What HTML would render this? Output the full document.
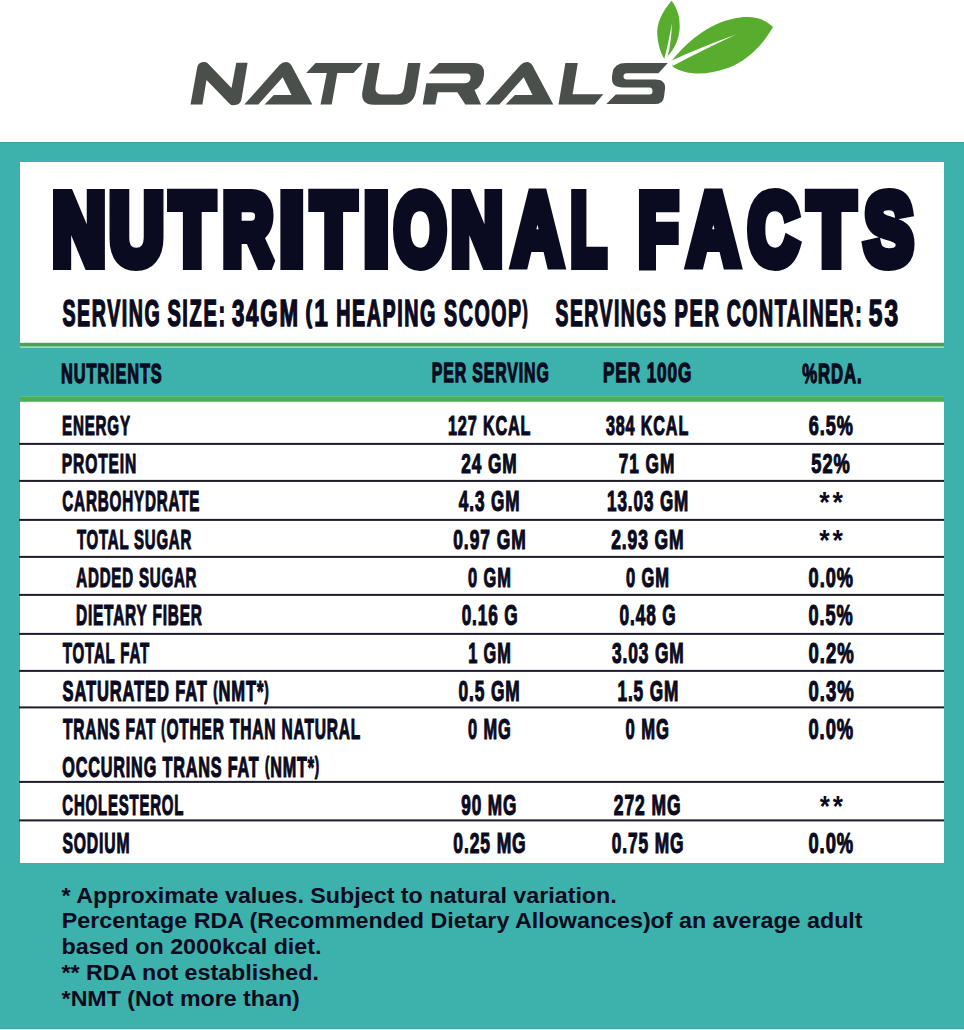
<!DOCTYPE html>
<html><head><meta charset="utf-8"><style>
html,body{margin:0;padding:0;background:#fff;width:964px;height:1030px;overflow:hidden}
svg{display:block}
text{font-family:"Liberation Sans",sans-serif;font-weight:700}
</style></head><body>
<svg width="964" height="1030" viewBox="0 0 964 1030">
<rect x="0" y="0" width="964" height="1030" fill="#ffffff"/>
<g fill="#4b4f4c">
<path d="M190.5,104.6 L197.3,66.9 Q198.5,62 204.5,62 Q207,62 208.6,64.2 L231.5,88.1 L236.3,62.8 L247.6,62.8 L241.5,99.1 Q240.5,105.3 233.3,105.3 Q231,105.3 229.8,103.9 L206.5,79.9 L202.4,104.6 Z"/>
<path id="A1" d="M244.3,104.6 L279.5,65 Q282.5,62 286,62 Q289.5,62 291.5,65.5 L312.3,104.6 L264.6,104.6 L273.9,94.9 L291.5,94.9 L282.7,77.3 L258.3,104.6 Z"/>
<path transform="translate(241,0)" d="M244.3,104.6 L279.5,65 Q282.5,62 286,62 Q289.5,62 291.5,65.5 L312.3,104.6 L264.6,104.6 L273.9,94.9 L291.5,94.9 L282.7,77.3 L258.3,104.6 Z"/>
<path d="M306.2,73 L315.6,63.1 L362.9,63.1 L353.5,73 L337.3,73 L331.7,104.5 L320.5,104.5 L326.8,73 Z"/>
<path d="M367.8,63.1 L379.7,63.1 L375.6,86 Q374.2,94.5 382,94.5 L397,94.5 Q403,94.5 404,88 L408,63.1 L420.5,63.1 L416,91 Q413.5,104.8 401,104.8 L374,104.8 Q360,104.8 362.5,91 Z"/>
<path d="M438.9,63.1 L473.2,63.1 Q485,63.1 484,75 Q483,86 474.5,90 L481.1,104.5 L465.3,104.5 L457.4,92.3 L437.7,92.3 L435.4,104.5 L422.7,104.5 L426.3,83.2 L465.3,83.2 Q470,83 470.5,78 Q471,73.4 466,73.4 L428.6,73.4 Z"/>
<path d="M565.4,63.1 L577.8,63.1 L572.6,94.2 L603.3,94.2 L594.6,104.5 L558.5,104.5 Z"/>
<path d="M626,63.1 L667.8,63.1 L658.4,73.3 L627,73.3 Q623.5,73.3 623.5,76.5 Q623.5,79.5 627,79.5 L655,79.5 Q666,79.5 665,89 L664,97 Q663,104.1 655,104.1 L606.3,104.1 L615.8,94.6 L649.5,94.6 Q652.5,94.6 652.5,91 Q652.5,87.5 649.5,87.5 L623,87.5 Q611,87.5 612,77 L612.5,73 Q614,63.1 626,63.1 Z"/>
</g>
<g fill="#58ac2e">
<path d="M671.6,0.7 C662,12 656,24 657.4,36 C658.5,47 661,54 664.8,59.5 C672,52 679,42 679.7,28 C680,16 677,8 671.6,0.7 Z"/>
<path d="M671.5,61 C690,38 713,21 740,17.5 C756,15.5 766,20 773,27 C762,46 748,60 728,68 C708,75 688,76 673,67 Z"/>
</g>
<g fill="#ffffff">
<path d="M671.8,23 C671.8,36 670,48 666.8,59.8 L664,59.8 C667,48 670,36 671.8,23 Z"/>
<path d="M736,34.5 C712,43 690,52 669.5,61.5 L673.5,65.5 C693,55 714,45 736,34.5 Z"/>
</g>
<rect x="0" y="142" width="964" height="888" fill="#3db1ac"/>
<rect x="20" y="162" width="924" height="701" fill="#ffffff"/>
<rect x="20" y="342.8" width="924" height="3.9" fill="#4c9f57"/>
<rect x="20" y="347" width="924" height="49.19999999999999" fill="#3db1ac"/>
<rect x="20" y="396.2" width="924" height="5.6" fill="#4daf55"/>
<rect x="20" y="346.7" width="924" height="1" fill="#a6f2cf"/>
<rect x="0" y="142" width="964" height="1" fill="#3aa29d"/>
<rect x="0" y="1028" width="964" height="1" fill="#45a4a1"/>
<rect x="0" y="1029" width="964" height="1" fill="#b6faf6"/>
<rect x="19" y="442.90" width="925" height="2.0" fill="#1c1c2e"/>
<rect x="19" y="479.90" width="925" height="2.0" fill="#1c1c2e"/>
<rect x="19" y="518.90" width="925" height="2.0" fill="#1c1c2e"/>
<rect x="19" y="555.90" width="925" height="2.0" fill="#1c1c2e"/>
<rect x="19" y="593.90" width="925" height="2.0" fill="#1c1c2e"/>
<rect x="19" y="632.90" width="925" height="2.0" fill="#1c1c2e"/>
<rect x="19" y="669.90" width="925" height="2.0" fill="#1c1c2e"/>
<rect x="19" y="706.40" width="925" height="2.0" fill="#1c1c2e"/>
<rect x="19" y="780.90" width="925" height="2.0" fill="#1c1c2e"/>
<rect x="19" y="819.40" width="925" height="2.0" fill="#1c1c2e"/>
<g fill="#0a0a20">
<text x="52.39" y="264.00" font-size="100.29" textLength="52.99" lengthAdjust="spacingAndGlyphs" stroke="#0a0a20" stroke-width="12" stroke-linejoin="miter" stroke-miterlimit="1.8">N</text>
<text x="109.39" y="264.00" font-size="100.29" textLength="54.09" lengthAdjust="spacingAndGlyphs" stroke="#0a0a20" stroke-width="12" stroke-linejoin="miter" stroke-miterlimit="1.8">U</text>
<text x="170.50" y="264.00" font-size="100.29" textLength="43.64" lengthAdjust="spacingAndGlyphs" stroke="#0a0a20" stroke-width="12" stroke-linejoin="miter" stroke-miterlimit="1.8">T</text>
<text x="222.69" y="264.00" font-size="100.29" textLength="50.45" lengthAdjust="spacingAndGlyphs" stroke="#0a0a20" stroke-width="12" stroke-linejoin="miter" stroke-miterlimit="1.8">R</text>
<text x="279.70" y="264.00" font-size="100.29" textLength="24.03" lengthAdjust="spacingAndGlyphs" stroke="#0a0a20" stroke-width="12" stroke-linejoin="miter" stroke-miterlimit="1.8">I</text>
<text x="311.85" y="264.00" font-size="100.29" textLength="43.81" lengthAdjust="spacingAndGlyphs" stroke="#0a0a20" stroke-width="12" stroke-linejoin="miter" stroke-miterlimit="1.8">T</text>
<text x="364.09" y="264.00" font-size="100.29" textLength="24.65" lengthAdjust="spacingAndGlyphs" stroke="#0a0a20" stroke-width="12" stroke-linejoin="miter" stroke-miterlimit="1.8">I</text>
<text x="394.24" y="264.00" font-size="100.29" textLength="51.79" lengthAdjust="spacingAndGlyphs" stroke="#0a0a20" stroke-width="12" stroke-linejoin="miter" stroke-miterlimit="1.8">O</text>
<text x="451.20" y="264.00" font-size="100.29" textLength="51.39" lengthAdjust="spacingAndGlyphs" stroke="#0a0a20" stroke-width="12" stroke-linejoin="miter" stroke-miterlimit="1.8">N</text>
<text x="512.85" y="264.00" font-size="100.29" textLength="49.50" lengthAdjust="spacingAndGlyphs" stroke="#0a0a20" stroke-width="12" stroke-linejoin="miter" stroke-miterlimit="1.8">A</text>
<text x="570.84" y="264.00" font-size="100.29" textLength="35.36" lengthAdjust="spacingAndGlyphs" stroke="#0a0a20" stroke-width="12" stroke-linejoin="miter" stroke-miterlimit="1.8">L</text>
<text x="638.62" y="264.00" font-size="100.29" textLength="39.49" lengthAdjust="spacingAndGlyphs" stroke="#0a0a20" stroke-width="12" stroke-linejoin="miter" stroke-miterlimit="1.8">F</text>
<text x="688.10" y="264.00" font-size="100.29" textLength="50.68" lengthAdjust="spacingAndGlyphs" stroke="#0a0a20" stroke-width="12" stroke-linejoin="miter" stroke-miterlimit="1.8">A</text>
<text x="748.28" y="264.00" font-size="100.29" textLength="50.21" lengthAdjust="spacingAndGlyphs" stroke="#0a0a20" stroke-width="12" stroke-linejoin="miter" stroke-miterlimit="1.8">C</text>
<text x="808.55" y="264.00" font-size="100.29" textLength="46.09" lengthAdjust="spacingAndGlyphs" stroke="#0a0a20" stroke-width="12" stroke-linejoin="miter" stroke-miterlimit="1.8">T</text>
<text x="864.47" y="264.00" font-size="100.29" textLength="48.52" lengthAdjust="spacingAndGlyphs" stroke="#0a0a20" stroke-width="12" stroke-linejoin="miter" stroke-miterlimit="1.8">S</text>
<text x="62.40" y="325.90" font-size="37.50" textLength="99.07" lengthAdjust="spacingAndGlyphs" stroke="#0a0a20" stroke-width="1.6" stroke-linejoin="miter" stroke-miterlimit="1.8" letter-spacing="3">SERVING</text>
<text x="167.38" y="325.90" font-size="37.50" textLength="59.34" lengthAdjust="spacingAndGlyphs" stroke="#0a0a20" stroke-width="1.6" stroke-linejoin="miter" stroke-miterlimit="1.8" letter-spacing="3">SIZE:</text>
<text x="231.89" y="325.90" font-size="37.50" textLength="67.88" lengthAdjust="spacingAndGlyphs" stroke="#0a0a20" stroke-width="1.6" stroke-linejoin="miter" stroke-miterlimit="1.8" letter-spacing="3">34GM</text>
<text x="305.61" y="325.90" font-size="37.50" textLength="24.03" lengthAdjust="spacingAndGlyphs" stroke="#0a0a20" stroke-width="1.6" stroke-linejoin="miter" stroke-miterlimit="1.8" letter-spacing="3"><tspan font-size="30.38" dy="-3.75">(</tspan><tspan dy="3.75">1</tspan></text>
<text x="336.28" y="325.90" font-size="37.50" textLength="100.71" lengthAdjust="spacingAndGlyphs" stroke="#0a0a20" stroke-width="1.6" stroke-linejoin="miter" stroke-miterlimit="1.8" letter-spacing="3">HEAPING</text>
<text x="444.10" y="325.90" font-size="37.50" textLength="85.31" lengthAdjust="spacingAndGlyphs" stroke="#0a0a20" stroke-width="1.6" stroke-linejoin="miter" stroke-miterlimit="1.8" letter-spacing="3">SCOOP<tspan font-size="30.38" dy="-3.75">)</tspan></text>
<text x="555.49" y="325.90" font-size="37.50" textLength="111.87" lengthAdjust="spacingAndGlyphs" stroke="#0a0a20" stroke-width="1.6" stroke-linejoin="miter" stroke-miterlimit="1.8" letter-spacing="3">SERVINGS</text>
<text x="674.52" y="325.90" font-size="37.50" textLength="45.99" lengthAdjust="spacingAndGlyphs" stroke="#0a0a20" stroke-width="1.6" stroke-linejoin="miter" stroke-miterlimit="1.8" letter-spacing="3">PER</text>
<text x="726.69" y="325.90" font-size="37.50" textLength="136.64" lengthAdjust="spacingAndGlyphs" stroke="#0a0a20" stroke-width="1.6" stroke-linejoin="miter" stroke-miterlimit="1.8" letter-spacing="3">CONTAINER:</text>
<text x="868.85" y="325.90" font-size="37.50" textLength="31.16" lengthAdjust="spacingAndGlyphs" stroke="#0a0a20" stroke-width="1.6" stroke-linejoin="miter" stroke-miterlimit="1.8" letter-spacing="3">53</text>
<text x="60.96" y="382.65" font-size="27.62" textLength="101.68" lengthAdjust="spacingAndGlyphs" stroke="#0a0a20" stroke-width="1.3" stroke-linejoin="miter" stroke-miterlimit="1.8" letter-spacing="1.5">NUTRIENTS</text>
<text x="431.71" y="382.35" font-size="28.05" textLength="117.94" lengthAdjust="spacingAndGlyphs" stroke="#0a0a20" stroke-width="1.3" stroke-linejoin="miter" stroke-miterlimit="1.8" letter-spacing="1.5">PER SERVING</text>
<text x="602.91" y="382.35" font-size="28.05" textLength="89.41" lengthAdjust="spacingAndGlyphs" stroke="#0a0a20" stroke-width="1.3" stroke-linejoin="miter" stroke-miterlimit="1.8" letter-spacing="1.5">PER 100G</text>
<text x="802.13" y="382.55" font-size="27.47" textLength="60.34" lengthAdjust="spacingAndGlyphs" stroke="#0a0a20" stroke-width="1.3" stroke-linejoin="miter" stroke-miterlimit="1.8" letter-spacing="1.5">%RDA.</text>
<text x="61.98" y="435.23" font-size="28.13" textLength="68.91" lengthAdjust="spacingAndGlyphs" stroke="#0a0a20" stroke-width="1.15" stroke-linejoin="miter" stroke-miterlimit="1.8" letter-spacing="1.5">ENERGY</text>
<text x="447.89" y="435.23" font-size="28.13" textLength="83.51" lengthAdjust="spacingAndGlyphs" stroke="#0a0a20" stroke-width="1.15" stroke-linejoin="miter" stroke-miterlimit="1.8" letter-spacing="1.5">127 KCAL</text>
<text x="605.91" y="435.23" font-size="28.13" textLength="83.21" lengthAdjust="spacingAndGlyphs" stroke="#0a0a20" stroke-width="1.15" stroke-linejoin="miter" stroke-miterlimit="1.8" letter-spacing="1.5">384 KCAL</text>
<text x="808.63" y="435.23" font-size="28.13" textLength="45.14" lengthAdjust="spacingAndGlyphs" stroke="#0a0a20" stroke-width="1.15" stroke-linejoin="miter" stroke-miterlimit="1.8" letter-spacing="1.5">6.5%</text>
<text x="61.84" y="473.03" font-size="28.27" textLength="75.18" lengthAdjust="spacingAndGlyphs" stroke="#0a0a20" stroke-width="1.15" stroke-linejoin="miter" stroke-miterlimit="1.8" letter-spacing="1.5">PROTEIN</text>
<text x="461.17" y="473.03" font-size="28.27" textLength="56.44" lengthAdjust="spacingAndGlyphs" stroke="#0a0a20" stroke-width="1.15" stroke-linejoin="miter" stroke-miterlimit="1.8" letter-spacing="1.5">24 GM</text>
<text x="618.83" y="473.03" font-size="28.27" textLength="56.35" lengthAdjust="spacingAndGlyphs" stroke="#0a0a20" stroke-width="1.15" stroke-linejoin="miter" stroke-miterlimit="1.8" letter-spacing="1.5">71 GM</text>
<text x="811.32" y="473.03" font-size="28.27" textLength="39.43" lengthAdjust="spacingAndGlyphs" stroke="#0a0a20" stroke-width="1.15" stroke-linejoin="miter" stroke-miterlimit="1.8" letter-spacing="1.5">52%</text>
<text x="62.31" y="511.43" font-size="28.85" textLength="137.92" lengthAdjust="spacingAndGlyphs" stroke="#0a0a20" stroke-width="1.15" stroke-linejoin="miter" stroke-miterlimit="1.8" letter-spacing="1.5">CARBOHYDRATE</text>
<text x="458.87" y="511.43" font-size="28.85" textLength="61.57" lengthAdjust="spacingAndGlyphs" stroke="#0a0a20" stroke-width="1.15" stroke-linejoin="miter" stroke-miterlimit="1.8" letter-spacing="1.5">4.3 GM</text>
<text x="607.12" y="511.43" font-size="28.85" textLength="82.05" lengthAdjust="spacingAndGlyphs" stroke="#0a0a20" stroke-width="1.15" stroke-linejoin="miter" stroke-miterlimit="1.8" letter-spacing="1.5">13.03 GM</text>
<text x="819.32" y="512.30" font-size="29.00" textLength="26.38" lengthAdjust="spacingAndGlyphs" font-weight="700" style="font-weight:700" letter-spacing="3">**</text>
<text x="76.89" y="548.92" font-size="28.13" textLength="115.18" lengthAdjust="spacingAndGlyphs" stroke="#0a0a20" stroke-width="1.15" stroke-linejoin="miter" stroke-miterlimit="1.8" letter-spacing="1.5">TOTAL SUGAR</text>
<text x="453.22" y="548.92" font-size="28.13" textLength="73.56" lengthAdjust="spacingAndGlyphs" stroke="#0a0a20" stroke-width="1.15" stroke-linejoin="miter" stroke-miterlimit="1.8" letter-spacing="1.5">0.97 GM</text>
<text x="611.19" y="548.92" font-size="28.13" textLength="73.36" lengthAdjust="spacingAndGlyphs" stroke="#0a0a20" stroke-width="1.15" stroke-linejoin="miter" stroke-miterlimit="1.8" letter-spacing="1.5">2.93 GM</text>
<text x="819.29" y="549.80" font-size="29.00" textLength="26.38" lengthAdjust="spacingAndGlyphs" font-weight="700" style="font-weight:700" letter-spacing="3">**</text>
<text x="76.35" y="587.12" font-size="27.83" textLength="120.92" lengthAdjust="spacingAndGlyphs" stroke="#0a0a20" stroke-width="1.15" stroke-linejoin="miter" stroke-miterlimit="1.8" letter-spacing="1.5">ADDED SUGAR</text>
<text x="468.09" y="587.12" font-size="27.83" textLength="43.61" lengthAdjust="spacingAndGlyphs" stroke="#0a0a20" stroke-width="1.15" stroke-linejoin="miter" stroke-miterlimit="1.8" letter-spacing="1.5">0 GM</text>
<text x="625.96" y="587.12" font-size="27.83" textLength="43.92" lengthAdjust="spacingAndGlyphs" stroke="#0a0a20" stroke-width="1.15" stroke-linejoin="miter" stroke-miterlimit="1.8" letter-spacing="1.5">0 GM</text>
<text x="808.59" y="587.12" font-size="27.83" textLength="45.28" lengthAdjust="spacingAndGlyphs" stroke="#0a0a20" stroke-width="1.15" stroke-linejoin="miter" stroke-miterlimit="1.8" letter-spacing="1.5">0.0%</text>
<text x="75.93" y="625.42" font-size="28.85" textLength="126.80" lengthAdjust="spacingAndGlyphs" stroke="#0a0a20" stroke-width="1.15" stroke-linejoin="miter" stroke-miterlimit="1.8" letter-spacing="1.5">DIETARY FIBER</text>
<text x="461.63" y="625.42" font-size="28.85" textLength="56.90" lengthAdjust="spacingAndGlyphs" stroke="#0a0a20" stroke-width="1.15" stroke-linejoin="miter" stroke-miterlimit="1.8" letter-spacing="1.5">0.16 G</text>
<text x="619.60" y="625.42" font-size="28.85" textLength="57.01" lengthAdjust="spacingAndGlyphs" stroke="#0a0a20" stroke-width="1.15" stroke-linejoin="miter" stroke-miterlimit="1.8" letter-spacing="1.5">0.48 G</text>
<text x="808.45" y="625.42" font-size="28.85" textLength="45.12" lengthAdjust="spacingAndGlyphs" stroke="#0a0a20" stroke-width="1.15" stroke-linejoin="miter" stroke-miterlimit="1.8" letter-spacing="1.5">0.5%</text>
<text x="62.78" y="663.42" font-size="28.85" textLength="87.33" lengthAdjust="spacingAndGlyphs" stroke="#0a0a20" stroke-width="1.15" stroke-linejoin="miter" stroke-miterlimit="1.8" letter-spacing="1.5">TOTAL FAT</text>
<text x="468.30" y="663.42" font-size="28.85" textLength="43.30" lengthAdjust="spacingAndGlyphs" stroke="#0a0a20" stroke-width="1.15" stroke-linejoin="miter" stroke-miterlimit="1.8" letter-spacing="1.5">1 GM</text>
<text x="611.97" y="663.42" font-size="28.85" textLength="72.74" lengthAdjust="spacingAndGlyphs" stroke="#0a0a20" stroke-width="1.15" stroke-linejoin="miter" stroke-miterlimit="1.8" letter-spacing="1.5">3.03 GM</text>
<text x="808.54" y="663.42" font-size="28.85" textLength="46.01" lengthAdjust="spacingAndGlyphs" stroke="#0a0a20" stroke-width="1.15" stroke-linejoin="miter" stroke-miterlimit="1.8" letter-spacing="1.5">0.2%</text>
<text x="62.54" y="701.42" font-size="28.85" textLength="206.99" lengthAdjust="spacingAndGlyphs" stroke="#0a0a20" stroke-width="1.15" stroke-linejoin="miter" stroke-miterlimit="1.8" letter-spacing="1.5">SATURATED FAT <tspan font-size="23.37" dy="-2.89">(</tspan><tspan dy="2.89">NMT*</tspan><tspan font-size="23.37" dy="-2.89">)</tspan></text>
<text x="458.39" y="701.42" font-size="28.85" textLength="62.22" lengthAdjust="spacingAndGlyphs" stroke="#0a0a20" stroke-width="1.15" stroke-linejoin="miter" stroke-miterlimit="1.8" letter-spacing="1.5">0.5 GM</text>
<text x="617.42" y="701.42" font-size="28.85" textLength="61.92" lengthAdjust="spacingAndGlyphs" stroke="#0a0a20" stroke-width="1.15" stroke-linejoin="miter" stroke-miterlimit="1.8" letter-spacing="1.5">1.5 GM</text>
<text x="808.54" y="701.42" font-size="28.85" textLength="46.01" lengthAdjust="spacingAndGlyphs" stroke="#0a0a20" stroke-width="1.15" stroke-linejoin="miter" stroke-miterlimit="1.8" letter-spacing="1.5">0.3%</text>
<text x="62.89" y="739.42" font-size="28.85" textLength="298.25" lengthAdjust="spacingAndGlyphs" stroke="#0a0a20" stroke-width="1.15" stroke-linejoin="miter" stroke-miterlimit="1.8" letter-spacing="1.5">TRANS FAT <tspan font-size="23.37" dy="-2.89">(</tspan><tspan dy="2.89">OTHER THAN NATURAL</tspan></text>
<text x="468.03" y="739.42" font-size="28.85" textLength="43.45" lengthAdjust="spacingAndGlyphs" stroke="#0a0a20" stroke-width="1.15" stroke-linejoin="miter" stroke-miterlimit="1.8" letter-spacing="1.5">0 MG</text>
<text x="625.61" y="739.42" font-size="28.85" textLength="44.06" lengthAdjust="spacingAndGlyphs" stroke="#0a0a20" stroke-width="1.15" stroke-linejoin="miter" stroke-miterlimit="1.8" letter-spacing="1.5">0 MG</text>
<text x="808.44" y="739.42" font-size="28.85" textLength="45.66" lengthAdjust="spacingAndGlyphs" stroke="#0a0a20" stroke-width="1.15" stroke-linejoin="miter" stroke-miterlimit="1.8" letter-spacing="1.5">0.0%</text>
<text x="62.22" y="777.02" font-size="29.00" textLength="257.85" lengthAdjust="spacingAndGlyphs" stroke="#0a0a20" stroke-width="1.15" stroke-linejoin="miter" stroke-miterlimit="1.8" letter-spacing="1.5">OCCURING TRANS FAT <tspan font-size="23.49" dy="-2.90">(</tspan><tspan dy="2.90">NMT*</tspan><tspan font-size="23.49" dy="-2.90">)</tspan></text>
<text x="62.29" y="815.42" font-size="28.85" textLength="121.88" lengthAdjust="spacingAndGlyphs" stroke="#0a0a20" stroke-width="1.15" stroke-linejoin="miter" stroke-miterlimit="1.8" letter-spacing="1.5">CHOLESTEROL</text>
<text x="461.20" y="815.42" font-size="28.85" textLength="56.04" lengthAdjust="spacingAndGlyphs" stroke="#0a0a20" stroke-width="1.15" stroke-linejoin="miter" stroke-miterlimit="1.8" letter-spacing="1.5">90 MG</text>
<text x="613.77" y="815.42" font-size="28.85" textLength="67.63" lengthAdjust="spacingAndGlyphs" stroke="#0a0a20" stroke-width="1.15" stroke-linejoin="miter" stroke-miterlimit="1.8" letter-spacing="1.5">272 MG</text>
<text x="819.75" y="816.30" font-size="29.00" textLength="25.77" lengthAdjust="spacingAndGlyphs" font-weight="700" style="font-weight:700" letter-spacing="3">**</text>
<text x="62.49" y="853.42" font-size="28.85" textLength="67.83" lengthAdjust="spacingAndGlyphs" stroke="#0a0a20" stroke-width="1.15" stroke-linejoin="miter" stroke-miterlimit="1.8" letter-spacing="1.5">SODIUM</text>
<text x="453.30" y="853.42" font-size="28.85" textLength="73.29" lengthAdjust="spacingAndGlyphs" stroke="#0a0a20" stroke-width="1.15" stroke-linejoin="miter" stroke-miterlimit="1.8" letter-spacing="1.5">0.25 MG</text>
<text x="611.63" y="853.42" font-size="28.85" textLength="72.78" lengthAdjust="spacingAndGlyphs" stroke="#0a0a20" stroke-width="1.15" stroke-linejoin="miter" stroke-miterlimit="1.8" letter-spacing="1.5">0.75 MG</text>
<text x="808.44" y="853.42" font-size="28.85" textLength="45.66" lengthAdjust="spacingAndGlyphs" stroke="#0a0a20" stroke-width="1.15" stroke-linejoin="miter" stroke-miterlimit="1.8" letter-spacing="1.5">0.0%</text>
<text x="61.61" y="902.60" font-size="22.8" textLength="555.16" lengthAdjust="spacingAndGlyphs">* Approximate values. Subject to natural variation.</text>
<text x="61.81" y="928.20" font-size="22.8" textLength="800.76" lengthAdjust="spacingAndGlyphs">Percentage RDA (Recommended Dietary Allowances)of an average adult</text>
<text x="61.57" y="954.00" font-size="22.8" textLength="259.93" lengthAdjust="spacingAndGlyphs">based on 2000kcal diet.</text>
<text x="61.56" y="980.20" font-size="22.8" textLength="257.31" lengthAdjust="spacingAndGlyphs">** RDA not established.</text>
<text x="61.61" y="1006.20" font-size="22.8" textLength="238.14" lengthAdjust="spacingAndGlyphs">*NMT (Not more than)</text>
</g>
</svg>
</body></html>
